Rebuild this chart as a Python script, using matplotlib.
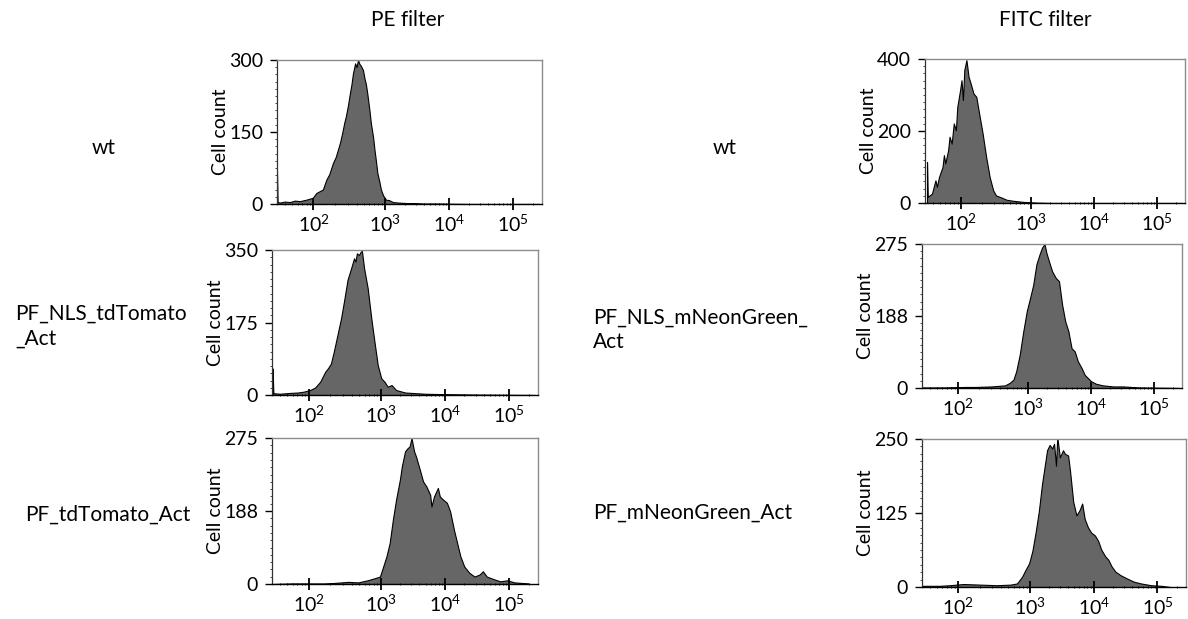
import numpy as np
import matplotlib
matplotlib.use('Agg')
import matplotlib.pyplot as plt

plt.rcParams['font.family'] = ['Lato', 'DejaVu Sans']
plt.rcParams['mathtext.default'] = 'regular'

# histogram traces: log10(fluorescence) and cell count
pe_wt_lg = [1.49, 1.50, 1.53, 1.60, 1.67, 1.74, 1.81, 1.90, 1.99, 2.04, 2.09, 2.13, 2.18, 2.22,
            2.27, 2.31, 2.34, 2.37, 2.40, 2.43, 2.45, 2.48, 2.50, 2.53, 2.55, 2.58, 2.60, 2.62,
            2.64, 2.66, 2.69, 2.71, 2.73, 2.75, 2.78, 2.80, 2.83, 2.85, 2.87, 2.89, 2.92, 2.94,
            2.97, 3.01, 3.06, 3.12, 3.20, 3.33, 3.45, 3.59, 3.80, 4.0, 4.3, 5.4]
pe_wt_n = [78, 4, 3, 5, 4, 7, 6, 9, 13, 23, 27, 30, 51, 62, 85, 98, 113, 128, 148, 170, 182,
           205, 224, 250, 272, 293, 285, 300, 292, 288, 279, 262, 250, 230, 195, 168, 140, 113,
           90, 65, 45, 30, 18, 9, 8, 4, 3, 2, 2, 1, 1, 0.5, 0, 0]

pe_nls_lg = [1.50, 1.51, 1.53, 1.60, 1.74, 1.85, 1.93, 2.02, 2.09, 2.16, 2.23, 2.27, 2.31, 2.35,
             2.40, 2.45, 2.49, 2.54, 2.59, 2.63, 2.65, 2.67, 2.70, 2.72, 2.74, 2.77, 2.82, 2.87,
             2.92, 2.96, 3.01, 3.06, 3.11, 3.17, 3.24, 3.38, 3.69, 4.0, 4.5, 5.4]
pe_nls_n = [64, 5, 4, 3, 5, 6, 8, 12, 18, 32, 56, 65, 76, 105, 145, 185, 225, 278, 306, 330,
            322, 342, 338, 345, 348, 306, 258, 185, 121, 72, 40, 32, 20, 24, 12, 6, 3, 2, 1, 0]

pe_td_lg = [1.50, 1.76, 1.99, 2.22, 2.36, 2.55, 2.69, 2.82, 2.92, 2.99, 3.04, 3.09, 3.14, 3.19,
            3.24, 3.30, 3.33, 3.38, 3.42, 3.45, 3.48, 3.52, 3.55, 3.61, 3.66, 3.71, 3.77, 3.79,
            3.83, 3.89, 3.92, 3.97, 4.03, 4.08, 4.14, 4.19, 4.24, 4.30, 4.38, 4.46, 4.54, 4.59,
            4.65, 4.76, 4.86, 4.97, 5.08, 5.19, 5.30]
pe_td_n = [0, 1, 1, 1, 2, 4, 3, 7, 11, 14, 33, 52, 77, 121, 159, 197, 222, 250, 256, 259, 275,
           250, 240, 215, 193, 184, 168, 146, 165, 181, 165, 159, 153, 137, 102, 77, 52, 33, 21,
           14, 18, 24, 14, 9, 5, 7, 3, 2, 1]

fitc_wt_lg = [1.52, 1.53, 1.55, 1.59, 1.64, 1.66, 1.69, 1.74, 1.76, 1.78, 1.82, 1.84, 1.87, 1.90,
              1.93, 1.95, 1.99, 2.01, 2.03, 2.05, 2.08, 2.11, 2.14, 2.18, 2.22, 2.26, 2.31, 2.36,
              2.41, 2.46, 2.50, 2.58, 2.65, 2.75, 2.89, 3.08, 3.3, 5.4]
fitc_wt_n = [114, 17, 20, 26, 63, 45, 72, 100, 133, 110, 147, 184, 165, 221, 202, 267, 314, 341,
             286, 370, 397, 351, 332, 304, 295, 249, 193, 128, 72, 35, 21, 15, 9, 6, 3, 1, 0, 0]

fitc_nls_lg = [1.50, 1.80, 2.10, 2.25, 2.48, 2.67, 2.74, 2.79, 2.83, 2.88, 2.93, 2.98, 3.03, 3.08,
               3.13, 3.18, 3.22, 3.26, 3.29, 3.33, 3.38, 3.44, 3.49, 3.54, 3.59, 3.64, 3.69, 3.74,
               3.79, 3.85, 3.90, 3.95, 4.00, 4.08, 4.19, 4.35, 4.51, 4.77, 5.4]
fitc_nls_n = [1, 1, 2, 2, 3, 5, 10, 16, 32, 64, 108, 147, 172, 197, 236, 255, 268, 275, 258, 242,
              223, 210, 204, 159, 127, 108, 76, 70, 51, 38, 25, 19, 13, 8, 5, 3, 3, 1, 0]

fitc_mng_lg = [1.48, 1.74, 1.88, 2.07, 2.31, 2.54, 2.73, 2.82, 2.89, 2.94, 2.99, 3.04, 3.09, 3.14,
               3.19, 3.23, 3.27, 3.31, 3.35, 3.38, 3.41, 3.43, 3.47, 3.52, 3.55, 3.60, 3.63, 3.68,
               3.73, 3.78, 3.82, 3.86, 3.91, 3.96, 4.02, 4.07, 4.12, 4.18, 4.23, 4.28, 4.34, 4.42,
               4.53, 4.63, 4.74, 4.90, 5.06, 5.2]
fitc_mng_n = [2, 2, 3, 5, 4, 3, 4, 6, 17, 29, 40, 61, 92, 127, 173, 202, 231, 240, 234, 242, 205,
              254, 219, 231, 225, 222, 196, 144, 121, 130, 141, 115, 101, 92, 87, 78, 63, 52, 46,
              35, 26, 20, 14, 9, 6, 3, 2, 0]

# y axis tops and the (odd) FlowJo tick labels
pe_wt_yt = ['0', '150', '300']
pe_nls_yt = ['0', '175', '350']
pe_td_yt = ['0', '188', '275']
fitc_wt_yt = ['0', '200', '400']
fitc_nls_yt = ['0', '188', '275']
fitc_mng_yt = ['0', '125', '250']

xtick_vals = [1e2, 1e3, 1e4, 1e5]
xtick_labels = ['$10^{2}$', '$10^{3}$', '$10^{4}$', '$10^{5}$']

col_titles = ['PE filter', 'FITC filter']
row_labels_pe = ['wt', 'PF_NLS_tdTomato\n_Act', 'PF_tdTomato_Act']
row_labels_fitc = ['wt', 'PF_NLS_mNeonGreen_\nAct', 'PF_mNeonGreen_Act']

W, H = 1188, 619
STRETCH = 1.12  # biex-like display: the 10^2-10^3 decade is drawn a bit wider


def fwd(x):
    lg = np.log10(np.clip(x, 1e-3, None))
    return np.where(lg < 3, 3 - (3 - lg) * STRETCH, lg)


def inv(u):
    return 10 ** np.where(u < 3, 3 - (3 - u) / STRETCH, u)


def make_axes(fig, l, t, r, b):
    return fig.add_axes([l / W, 1 - b / H, (r - l) / W, (b - t) / H])


def histo(ax, lg, n, ymax, ylabels):
    x = 10 ** np.array(lg)
    ax.fill_between(x, 0, n, facecolor='#666666', edgecolor='black', lw=0.8)
    ax.set_xscale('function', functions=(fwd, inv))
    ax.set_xlim(31, 2.8e5)
    ax.set_ylim(0, ymax)
    ax.set_xticks(xtick_vals)
    ax.set_xticklabels(xtick_labels)
    minors = [k * 10 ** e for e in range(1, 6) for k in range(2, 10)]
    ax.set_xticks([m for m in minors if 31 < m < 2.8e5], minor=True)
    ax.set_yticks([0, ymax / 2, ymax])
    ax.set_yticklabels(ylabels)
    ax.set_yticks(np.linspace(0, ymax, 21), minor=True)
    ax.tick_params(axis='x', which='major', direction='inout', length=8, width=1.3,
                   labelsize=14, pad=3)
    ax.tick_params(axis='x', which='minor', direction='inout', length=2, width=0.6)
    ax.tick_params(axis='y', which='major', direction='out', length=5, width=1,
                   labelsize=14, pad=5)
    ax.tick_params(axis='y', which='minor', direction='out', length=1.5, width=0.5)
    ax.set_ylabel('Cell count', fontsize=14, labelpad=0)
    for s in ['top', 'right']:
        ax.spines[s].set_color('#8c8c8c')
        ax.spines[s].set_linewidth(1.0)
    ax.spines['left'].set_color('#333333')
    ax.spines['left'].set_linewidth(0.9)
    ax.spines['bottom'].set_color('black')
    ax.spines['bottom'].set_linewidth(1.0)


fig = plt.figure(figsize=(W / 100, H / 100), dpi=100)

histo(make_axes(fig, 277, 60, 542, 204), pe_wt_lg, pe_wt_n, 300, pe_wt_yt)
histo(make_axes(fig, 272, 250, 538, 395), pe_nls_lg, pe_nls_n, 350, pe_nls_yt)
histo(make_axes(fig, 272, 438, 538, 584), pe_td_lg, pe_td_n, 275, pe_td_yt)
histo(make_axes(fig, 925, 59, 1185, 203), fitc_wt_lg, fitc_wt_n, 400, fitc_wt_yt)
histo(make_axes(fig, 922, 244, 1182, 388), fitc_nls_lg, fitc_nls_n, 275, fitc_nls_yt)
histo(make_axes(fig, 922, 439, 1186, 587), fitc_mng_lg, fitc_mng_n, 250, fitc_mng_yt)

fig.text(408 / W, 1 - 20 / H, col_titles[0], fontsize=15, ha='center', va='center')
fig.text(1045 / W, 1 - 20 / H, col_titles[1], fontsize=15, ha='center', va='center')

fig.text(104 / W, 1 - 148 / H, row_labels_pe[0], fontsize=15, ha='center', va='center')
fig.text(15 / W, 1 - 326 / H, row_labels_pe[1], fontsize=15, ha='left', va='center',
         linespacing=1.3)
fig.text(25 / W, 1 - 515 / H, row_labels_pe[2], fontsize=15, ha='left', va='center')
fig.text(725 / W, 1 - 148 / H, row_labels_fitc[0], fontsize=15, ha='center', va='center')
fig.text(593 / W, 1 - 330 / H, row_labels_fitc[1], fontsize=15, ha='left', va='center',
         linespacing=1.3)
fig.text(593 / W, 1 - 513 / H, row_labels_fitc[2], fontsize=15, ha='left', va='center')

fig.savefig('out.png', dpi=100)
